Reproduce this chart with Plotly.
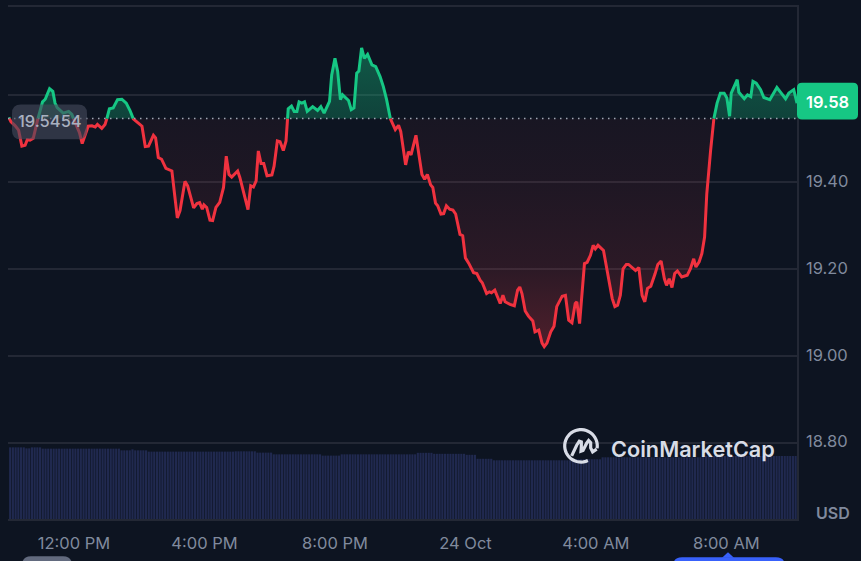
import numpy as np
import plotly.graph_objects as go

# minutes after 10:00 on 23 Oct, and USD price read at those moments
minutes = [0,4,11,18,24,30,34,39,45,50,57,62,67,75,81,85,89,100,110,116,122,130,135,140,146,153,159,163,171,177,181,185,192,200,208,216,223,229,
245,251,257,266,270,275,281,289,300,310,315,324,329,340,346,351,356,359,364,370,375,381,388,395,400,405,410,421,425,432,440,445,450,455,459,464,469,475,484,488,494,
499,505,510,514,520,525,530,534,539,544,549,559,568,574,580,590,594,600,605,610,614,625,630,635,640,644,649,654,660,668,675,683,689,695,702,
711,717,721,730,735,740,749,756,760,765,770,776,780,785,789,795,800,805,811,817,822,830,835,840,846,855,861,867,871,879,884,888,894,904,909,913,922,930,936,940,944,950,956,964,968,975,981,985,990,997,1003,1008,1013,
1018,1024,1030,1036,1042,1045,1050,1059,1064,1070,1075,1079,1084,1094,1102,1110,1115,1120,1125,1130,1136,1140,1153,1159,1165,1170,1175,1181,1189,1194,1200,1206,1210,1215,1220,1225,1230,1238,1248,1254,1260,1264,1270,1275,1280,1284,1291,1297,
1303,1309,1316,1321,1326,1329,1335,1340,1343,1353,1359,1365,1369,1375,1383,1389,1400,1413,1421,1429,1435,1444,1450]
prices = [19.548,19.538,19.530,19.519,19.482,19.484,19.497,19.496,19.500,19.528,19.562,19.584,19.590,19.614,19.608,19.581,19.571,19.558,19.562,19.555,19.536,19.513,19.488,19.505,19.528,19.529,19.526,19.532,19.523,19.532,19.548,19.568,19.570,19.589,19.590,19.581,19.564,19.545,
19.528,19.481,19.482,19.507,19.501,19.456,19.452,19.431,19.425,19.317,19.334,19.401,19.391,19.340,19.350,19.352,19.337,19.347,19.341,19.312,19.311,19.341,19.353,19.387,19.459,19.417,19.411,19.425,19.410,19.372,19.336,19.391,19.388,19.402,19.471,19.442,19.442,19.414,19.416,19.436,19.494,
19.492,19.472,19.494,19.568,19.574,19.562,19.562,19.584,19.581,19.584,19.562,19.573,19.564,19.573,19.558,19.585,19.646,19.684,19.654,19.589,19.600,19.587,19.566,19.570,19.650,19.655,19.708,19.684,19.693,19.669,19.665,19.642,19.619,19.589,19.545,
19.520,19.530,19.516,19.439,19.469,19.462,19.507,19.456,19.417,19.406,19.417,19.393,19.387,19.351,19.345,19.326,19.327,19.345,19.337,19.335,19.326,19.279,19.276,19.225,19.213,19.191,19.189,19.174,19.168,19.143,19.147,19.145,19.151,19.120,19.139,19.124,19.118,19.115,19.151,19.158,19.143,19.103,19.091,19.080,19.055,19.059,19.029,19.021,19.029,19.055,19.068,19.113,19.126,
19.137,19.139,19.082,19.076,19.120,19.124,19.074,19.212,19.215,19.231,19.254,19.246,19.254,19.242,19.189,19.132,19.113,19.116,19.139,19.200,19.210,19.210,19.196,19.203,19.139,19.124,19.155,19.160,19.189,19.210,19.218,19.177,19.162,19.177,19.157,19.189,19.195,19.181,19.185,19.200,19.223,19.204,19.216,19.235,19.273,19.372,19.471,19.545,
19.581,19.604,19.604,19.593,19.551,19.604,19.619,19.635,19.606,19.591,19.600,19.596,19.631,19.627,19.612,19.594,19.589,19.617,19.604,19.591,19.604,19.612,19.581]

# volume per 5-minute bar (relative units)
volume = [
72,72,72,72,72,72,71,71,72,72,
72,72,70.7,70.7,70.7,70.7,70.7,70.7,70.7,70.7,
70.7,70.7,70.7,70.7,70.7,70.7,70.7,70.7,70.7,70.7,
70.7,70.7,70.7,70.7,70.7,70.7,70.7,70.7,70.7,70.7,
70.7,69,69,69,69,70,69,69,69,69,
69,67.7,67.7,67.7,67.7,67.7,67.7,67.7,67.7,67.7,
67.7,67.7,67.7,67.7,67.7,67.7,67.7,67.7,67.7,67.7,
67.7,67.7,67.7,67.7,67.7,67.7,67.7,67.7,67.7,67.7,
67.7,67.7,67.7,68,68,68,68,68,68,68,
68,66.7,66.7,66.7,66.7,66.7,66.7,65,65,65,
65,65,65,65,65,65,65,65,65,65,
65,65,65,65,65,63.7,63.7,63.7,63.7,63.7,
63.7,63.7,65,65,65,65,65,65,65,65,
65,65,65,65,65,65,65,65,65,65,
65,65,65,65,65,65,65,65,65,65,
66.5,66.5,66.5,66.5,66.5,66.5,65.5,65.5,65.5,65.5,
65.5,65.5,65.5,65.5,65.5,65.5,65.5,65.5,64.5,64.5,
64.5,64.5,60.5,60.5,60.5,60.5,60.5,60.5,59,59,
59,59,59,59,59,59,59,59,59,59,
59,59,59,59,59,59,59,59,59,59,
59,59,59,59,59,59,59,60,60,60,
60,60,60,60,60,60,60,60,62,62,
62,62,62,62,62,62,62,62,62,62,
62,62,62,62,62,62,62,62,62,62,
62,62,62,62,62,62,62,62,62,62,
62,62,62,62,62,63.3,63.3,63.3,63.3,63.3,
63.3,63.3,63.3,63.3,63.3,63.3,63.3,63.3,63.3,63.3,
63.3,63.3,63.3,63.3,63.3,63.3,63.3,63.3,63.3,63.3,
63.3,63.3,63.3,63.3,63.3,63.3,63.3,63.3,63.3,63.3,
]

baseline_price = 19.5454
last_price = "19.58"
tick_minutes = [120, 360, 600, 840, 1080, 1320]
tick_labels = ["12:00 PM", "4:00 PM", "8:00 PM", "24 Oct", "4:00 AM", "8:00 AM"]
price_ticks = [18.8, 19.0, 19.2, 19.4, 19.6]
price_labels = ["18.80", "19.00", "19.20", "19.40", ""]

BG = "#0d1421"
GRID = "#232835"
GREY = "#808a9d"
RED = "#f0323f"
GREEN = "#16c784"
FONT = "Inter"

W, H = 861, 561
L, R, T, B = 8, 797, 5, 519.5
fx = lambda p: (p - L) / (R - L)
fy = lambda p: (B - p) / (B - T)


def split_segments(xs, ys, base):
    """Split the line where it crosses the opening price."""
    segs, cur = [], [(xs[0], ys[0])]
    up = ys[0] >= base
    for i in range(1, len(xs)):
        now = ys[i] >= base
        if now != up:
            t = (base - ys[i - 1]) / (ys[i] - ys[i - 1])
            cx = xs[i - 1] + t * (xs[i] - xs[i - 1])
            cur.append((cx, base))
            segs.append((up, cur))
            cur = [(cx, base)]
            up = now
        cur.append((xs[i], ys[i]))
    segs.append((up, cur))
    return segs


segments = split_segments(minutes, prices, baseline_price)

fig = go.Figure()
bar_x = np.arange(len(volume)) * 5 + 2.5
fig.add_bar(x=bar_x, y=volume, yaxis="y", marker=dict(color="#20294f", line_width=0),
            width=3.9, hoverinfo="skip", showlegend=False)


def polygon(is_up):
    px, py = [], []
    for up, seg in segments:
        if up != is_up:
            continue
        xs = [p[0] for p in seg]
        ys = [p[1] for p in seg]
        px += xs + [xs[-1], xs[0], xs[0], None]
        py += ys + [baseline_price, baseline_price, ys[0], None]
    return px, py


gx, gy = polygon(True)
rx, ry = polygon(False)
fig.add_scatter(x=rx, y=ry, yaxis="y2", mode="none", fill="toself", hoverinfo="skip", showlegend=False,
                fillgradient=dict(type="vertical", start=baseline_price, stop=19.0,
                                  colorscale=[[0, "rgba(234,57,67,0.05)"], [0.27, "rgba(234,57,67,0.08)"],
                                              [0.63, "rgba(234,57,67,0.14)"], [0.9, "rgba(234,57,67,0.27)"],
                                              [1, "rgba(234,57,67,0.30)"]]))
fig.add_scatter(x=gx, y=gy, yaxis="y2", mode="none", fill="toself", hoverinfo="skip", showlegend=False,
                fillgradient=dict(type="vertical", start=baseline_price, stop=19.7,
                                  colorscale=[[0, "rgba(22,199,132,0.26)"], [1, "rgba(22,199,132,0.38)"]]))
for up, seg in segments:
    fig.add_scatter(x=[p[0] for p in seg], y=[p[1] for p in seg], yaxis="y2", mode="lines",
                    line=dict(color=GREEN if up else RED, width=3), hoverinfo="skip", showlegend=False)


def rrect(x0, y0, x1, y1, r):
    return (f"M {fx(x0+r)} {fy(y0)} L {fx(x1-r)} {fy(y0)} Q {fx(x1)} {fy(y0)} {fx(x1)} {fy(y0+r)} "
            f"L {fx(x1)} {fy(y1-r)} Q {fx(x1)} {fy(y1)} {fx(x1-r)} {fy(y1)} L {fx(x0+r)} {fy(y1)} "
            f"Q {fx(x0)} {fy(y1)} {fx(x0)} {fy(y1-r)} L {fx(x0)} {fy(y0+r)} Q {fx(x0)} {fy(y0)} {fx(x0+r)} {fy(y0)} Z")


def poly(points, close=False):
    s = "M " + " L ".join(f"{fx(a)} {fy(b)}" for a, b in points)
    return s + (" Z" if close else "")


def z8(a, b):
    return 550 + a / 3, 420 + b / 3


arc = [(581 + 16.3 * np.cos(t), 446 + 16.3 * np.sin(t)) for t in np.radians(np.arange(65, 372, 8))]
squiggle = [z8(*p) for p in [(65, 108), (80, 76), (88, 64), (94, 66), (94, 80), (93, 94), (99, 92),
                             (110, 70), (116, 62), (122, 68), (122, 84), (128, 96), (140, 88)]]

shapes = [
    dict(type="line", xref="paper", x0=0, x1=1, yref="y2", y0=baseline_price, y1=baseline_price,
         line=dict(color="#a0a6b4", width=1.5, dash="1.5px,4.5px"), layer="above"),
    dict(type="path", xref="paper", yref="paper", path=rrect(12, 103, 87, 138, 9),
         fillcolor="rgba(70,75,92,0.62)", line_width=0, layer="above"),
    dict(type="path", xref="paper", yref="paper", path=rrect(797, 81, 858, 118, 5),
         fillcolor=GREEN, line_width=0, layer="above"),
    dict(type="path", xref="paper", yref="paper", path=poly(arc), fillcolor="rgba(0,0,0,0)",
         line=dict(color="#d8dce6", width=3.2), layer="above"),
    dict(type="path", xref="paper", yref="paper", path=poly(squiggle), fillcolor="rgba(0,0,0,0)",
         line=dict(color="#d8dce6", width=3.2), layer="above"),
    dict(type="path", xref="paper", yref="paper", path=rrect(22, 557, 72, 575, 9),
         fillcolor="#626a7e", line_width=0, layer="above"),
    dict(type="path", xref="paper", yref="paper", path=rrect(673, 558, 785, 580, 9),
         fillcolor="#3861fb", line_width=0, layer="above"),
    dict(type="path", xref="paper", yref="paper", path=poly([(722, 558.5), (728, 553), (734, 558.5)], True),
         fillcolor="#3861fb", line_width=0, layer="above"),
]


def label(x, y, text, size, color, weight=400):
    return dict(xref="paper", yref="paper", x=fx(x), y=fy(y), text=text, showarrow=False,
                xanchor="center", yanchor="middle", font=dict(family=FONT, size=size, color=color, weight=weight))


annotations = [
    label(50, 119.5, "19.5454", 16.5, "#a9b0c0", 500),
    label(827.5, 100, last_price, 16.5, "#ffffff", 600),
    label(833, 513, "USD", 16, GREY, 600),
    label(692.5, 449, "CoinMarketCap", 21.7, "#d8dce6", 600),
]

fig.update_layout(
    width=W, height=H, autosize=False,
    margin=dict(l=L, r=W - R, t=T, b=H - B),
    paper_bgcolor=BG, plot_bgcolor=BG, barmode="overlay",
    font=dict(family=FONT, color=GREY, size=16),
    shapes=shapes, annotations=annotations, showlegend=False,
    xaxis=dict(range=[-1.5, 1450], tickmode="array", tickvals=tick_minutes, ticktext=tick_labels,
               showgrid=False, zeroline=False, showline=True, mirror=True, linecolor=GRID, linewidth=1.5,
               ticks="", tickfont=dict(family=FONT, size=16.5, color=GREY), ticklabelstandoff=8),
    yaxis=dict(range=[0, B - T], visible=False, fixedrange=True),
    yaxis2=dict(range=[19.6 - (B - 93.3) / 436.9, 19.6 + (93.3 - T) / 436.9], overlaying="y", side="right",
                anchor="x", tickmode="array", tickvals=price_ticks, ticktext=price_labels,
                showgrid=True, gridcolor=GRID, gridwidth=1.5, zeroline=False, showline=True, linecolor=GRID,
                linewidth=1.5, ticks="", tickfont=dict(family=FONT, size=16.5, color=GREY),
                ticklabelstandoff=4, ticklabelshift=-1),
)

fig.write_html("out.html", config=dict(displayModeBar=False),
               post_script="document.body.style.margin='0';document.body.style.overflow='hidden';document.body.style.background='%s';" % BG)
